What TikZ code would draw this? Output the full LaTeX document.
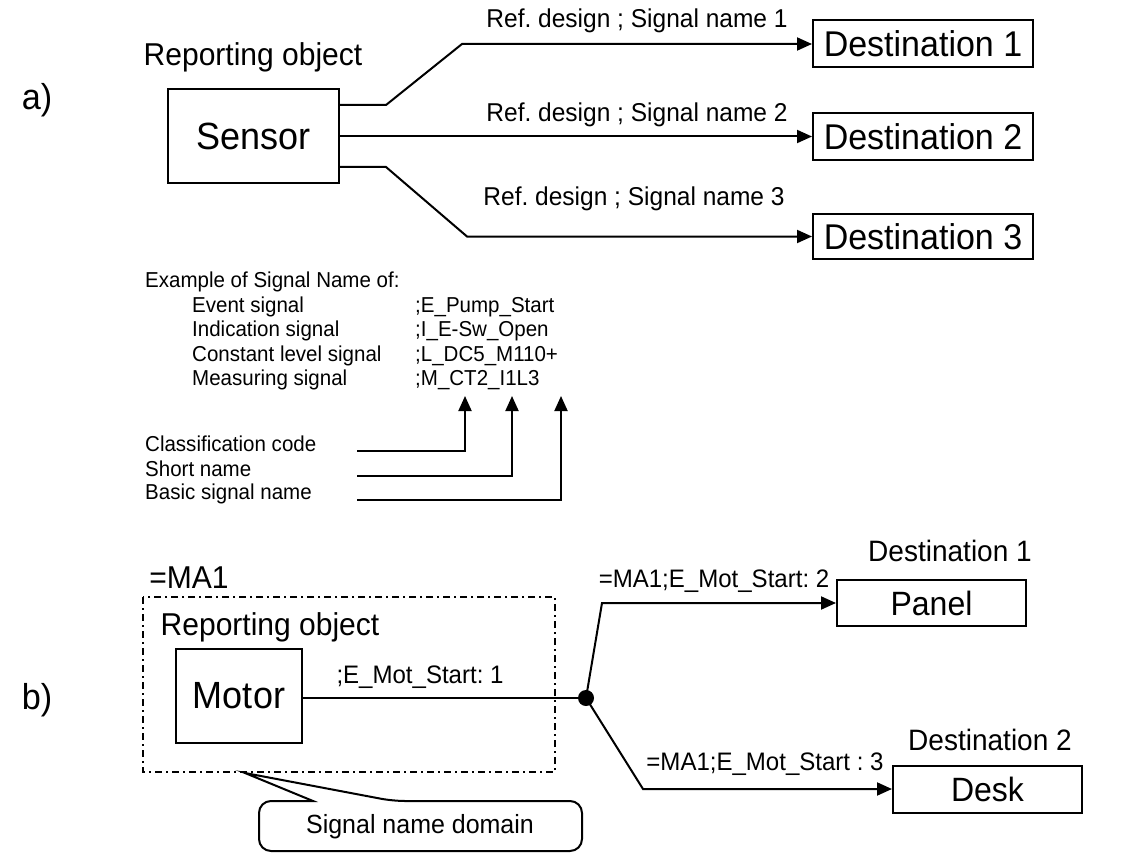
\documentclass[tikz,border=0pt]{standalone}
\usepackage{fontspec}
\setmainfont{Liberation Sans}[FakeStretch=0.95]
\usetikzlibrary{arrows.meta}
\frenchspacing
\newcommand\fsz[1]{\fontsize{#1pt}{#1pt}\selectfont}
\tikzset{
  txt/.style={inner sep=0pt},
  box/.style={draw, line width=2pt, inner sep=0pt},
  wire/.style={line width=2pt},
  arr/.style={wire, -{Triangle[length=15pt,width=13pt]}},
  domainbox/.style={draw, line width=2pt, dash pattern=on 7pt off 4pt on 2pt off 4pt},
}
\begin{document}
\begin{tikzpicture}[x=1pt,y=-1pt]
\useasboundingbox (0,0) rectangle (1121,853);

% ---------- a) one sensor, three destinations ----------
\node[txt, font=\fsz{36}] (la) at (37,100) {a)};
\node[txt, font=\fsz{31.6}] (rep1) at (253,57) {Reporting object};
\node[box, minimum width=171pt, minimum height=94pt, font=\fsz{37.9}] (sensor) at (253.5,136) {Sensor};

\node[box, minimum width=220pt, minimum height=47pt, font=\fsz{35.8}] (d1) at (923,44) {Destination 1};
\node[box, minimum width=220pt, minimum height=47pt, font=\fsz{35.8}] (d2) at (923,136.5) {Destination 2};
\node[box, minimum width=220pt, minimum height=45pt, font=\fsz{35.8}] (d3) at (923,236.5) {Destination 3};

\coordinate (t1) at (386,105);
\coordinate (t2) at (462,44);
\coordinate (b1) at (386,167);
\coordinate (b2) at (467,236.5);

\draw[arr] (sensor.east |- t1) -- (t1) -- (t2) -- (d1.west);
\draw[arr] (sensor.east |- d2.west) -- (d2.west);
\draw[arr] (sensor.east |- b1) -- (b1) -- (b2) -- (d3.west);

\node[txt, font=\fsz{25.8}] (s1) at (637,21) {Ref. design ; Signal name 1};
\node[txt, font=\fsz{25.8}] (s2) at (637,115) {Ref. design ; Signal name 2};
\node[txt, font=\fsz{25.8}] (s3) at (634,199) {Ref. design ; Signal name 3};

% ---------- signal name examples ----------
\node[txt, anchor=west, font=\fsz{21.6}] (exh) at (145,282) {Example of Signal Name of:};
\node[txt, anchor=west, font=\fsz{21.6}] (ev) at (192,307) {Event signal};
\node[txt, anchor=west, font=\fsz{21.6}] (ind) at (192,331) {Indication signal};
\node[txt, anchor=west, font=\fsz{21.6}] (con) at (192,356) {Constant level signal};
\node[txt, anchor=west, font=\fsz{21.6}] (mea) at (192,380) {Measuring signal};
\node[txt, anchor=west, font=\fsz{21.6}] (evv) at (415,307) {;E\_Pump\_Start};
\node[txt, anchor=west, font=\fsz{21.6}] (indv) at (415,331) {;I\_E-Sw\_Open};
\node[txt, anchor=west, font=\fsz{21.6}] (conv) at (415,356) {;L\_DC5\_M110+};
\node[txt, anchor=west, font=\fsz{21.6}] (meav) at (415,380) {;M\_CT2\_I1L3};

\node[txt, anchor=west, font=\fsz{21.6}] (cc) at (145,444) {Classification code};
\node[txt, anchor=west, font=\fsz{21.6}] (sn) at (145,469) {Short name};
\node[txt, anchor=west, font=\fsz{21.6}] (bs) at (145,494) {Basic signal name};

\coordinate (cc0) at (357,451);
\coordinate (sn0) at (357,476);
\coordinate (bs0) at (357,500);
\coordinate (cc1) at (465,396);
\coordinate (sn1) at (512,396);
\coordinate (bs1) at (561,396);
\draw[arr] (cc0) -| (cc1);
\draw[arr] (sn0) -| (sn1);
\draw[arr] (bs0) -| (bs1);

% ---------- b) motor with signal name domain ----------
\node[txt, font=\fsz{36}] (lb) at (37,700) {b)};
\node[txt, font=\fsz{31.6}] (ma1) at (189,578) {=MA1};
\draw[domainbox] (143,597) rectangle (555,772);
\node[txt, font=\fsz{31.6}] (rep2) at (270,627) {Reporting object};
\node[box, minimum width=126pt, minimum height=94pt, font=\fsz{37.9}] (motor) at (239,696) {Motor};

\fill (586,698) circle (8pt);
\coordinate (dot) at (586,698);
\draw[wire] (motor.east |- dot) -- (dot);
\node[txt, font=\fsz{25.3}] (m1) at (420,677) {;E\_Mot\_Start: 1};

\node[box, minimum width=189pt, minimum height=46pt, font=\fsz{33.7}] (panel) at (931.5,603) {Panel};
\node[box, minimum width=189pt, minimum height=47pt, font=\fsz{33.7}] (desk) at (987.5,789) {Desk};
\node[txt, font=\fsz{29.5}] (dn1) at (950,551) {Destination 1};
\node[txt, font=\fsz{29.5}] (dn2) at (990,740) {Destination 2};

\coordinate (u1) at (602,603);
\coordinate (l1) at (643,789);
\draw[arr] (dot) -- (u1) -- (panel.west);
\draw[arr] (dot) -- (l1) -- (desk.west);
\node[txt, font=\fsz{25.3}] (m2) at (714,581) {=MA1;E\_Mot\_Start: 2};
\node[txt, font=\fsz{25.3}] (m3) at (765,764) {=MA1;E\_Mot\_Start : 3};

% callout naming the domain
\draw[line width=2pt, rounded corners=12pt]
  (313,801) -- (259,801) -- (259,851) -- (582,851) -- (582,801) -- (393,801)
  [sharp corners] -- (245,773) -- cycle;
\node[txt, font=\fsz{26.3}] (dom) at (420,827) {Signal name domain};
\end{tikzpicture}
\end{document}
